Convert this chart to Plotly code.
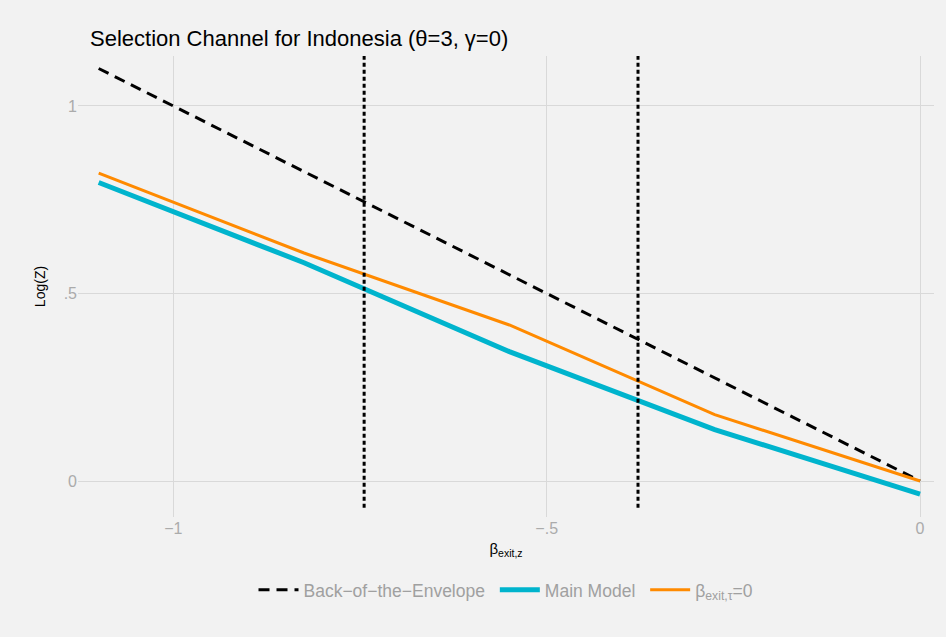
import plotly.graph_objects as go

# Exit elasticity grid and log productivity cutoff under each specification
beta_exit = [-1.1, -0.825, -0.55, -0.275, 0.0]
back_of_envelope = [1.1, 0.825, 0.55, 0.275, 0.0]
main_model = [0.796, 0.582, 0.345, 0.137, -0.035]
no_tariff_exit = [0.821, 0.608, 0.416, 0.177, 0.0]

# Reference elasticities marked with vertical lines
cutoffs = [-0.7445, -0.3777]

x_ticks = [-1, -0.5, 0]
x_tick_text = ["\u22121", "\u2212.5", "0"]
y_ticks = [0, 0.5, 1]
y_tick_text = ["0", ".5", "1"]

FONT = "Liberation Sans, Arial, Helvetica, sans-serif"
BG = "#f2f2f2"
GRID = "#d9d9d9"
TICK_GREY = "#ababab"

fig = go.Figure()

fig.add_trace(go.Scatter(
    x=beta_exit, y=back_of_envelope, mode="lines",
    name="Back\u2212of\u2212the\u2212Envelope ",
    line=dict(color="black", width=3, dash="11px,7px"),
))
fig.add_trace(go.Scatter(
    x=beta_exit, y=main_model, mode="lines",
    name="Main Model ",
    line=dict(color="#00b4cd", width=5),
))
fig.add_trace(go.Scatter(
    x=beta_exit, y=no_tariff_exit, mode="lines",
    name="\u03b2<sub>exit,\u03c4</sub>=0",
    line=dict(color="#ff8a00", width=3),
))

for c in cutoffs:
    fig.add_shape(
        type="line", xref="x", yref="paper",
        x0=c, x1=c, y0=0.02, y1=1,
        line=dict(color="black", width=3, dash="4px,3px"),
        layer="above",
    )

fig.update_layout(
    width=946, height=637,
    paper_bgcolor=BG, plot_bgcolor=BG,
    margin=dict(l=78, r=12, t=56, b=120),
    font=dict(family=FONT, color="black"),
    title=dict(
        text="Selection Channel for Indonesia (\u03b8=3, \u03b3=0)",
        x=90 / 946, xref="container", xanchor="left",
        y=1 - 38 / 637, yref="container", yanchor="middle",
        font=dict(size=22, color="black", family=FONT),
    ),
    xaxis=dict(
        range=[-1.1277, 0.0187],
        tickvals=x_ticks, ticktext=x_tick_text,
        showgrid=True, gridcolor=GRID, gridwidth=1,
        zeroline=False, showline=False, ticks="",
        tickfont=dict(size=16, color=TICK_GREY),
        title=dict(text="\u03b2<sub>exit,z</sub>", font=dict(size=15, color="black"), standoff=7),
        automargin=False,
    ),
    yaxis=dict(
        range=[-0.096, 1.1333],
        tickvals=y_ticks, ticktext=y_tick_text,
        showgrid=True, gridcolor=GRID, gridwidth=1,
        zeroline=False, showline=False, ticks="",
        tickfont=dict(size=16, color=TICK_GREY),
        title=dict(text="Log(Z)", font=dict(size=14, color="black"), standoff=14),
        automargin=False,
    ),
    legend=dict(
        orientation="h", x=0.5, xanchor="center",
        y=-0.158, yanchor="middle",
        font=dict(size=17.5, color="#a0a0a0", family=FONT),
        bgcolor="rgba(0,0,0,0)",
        itemwidth=40,
    ),
    showlegend=True,
)

fig.write_html("out.html")
